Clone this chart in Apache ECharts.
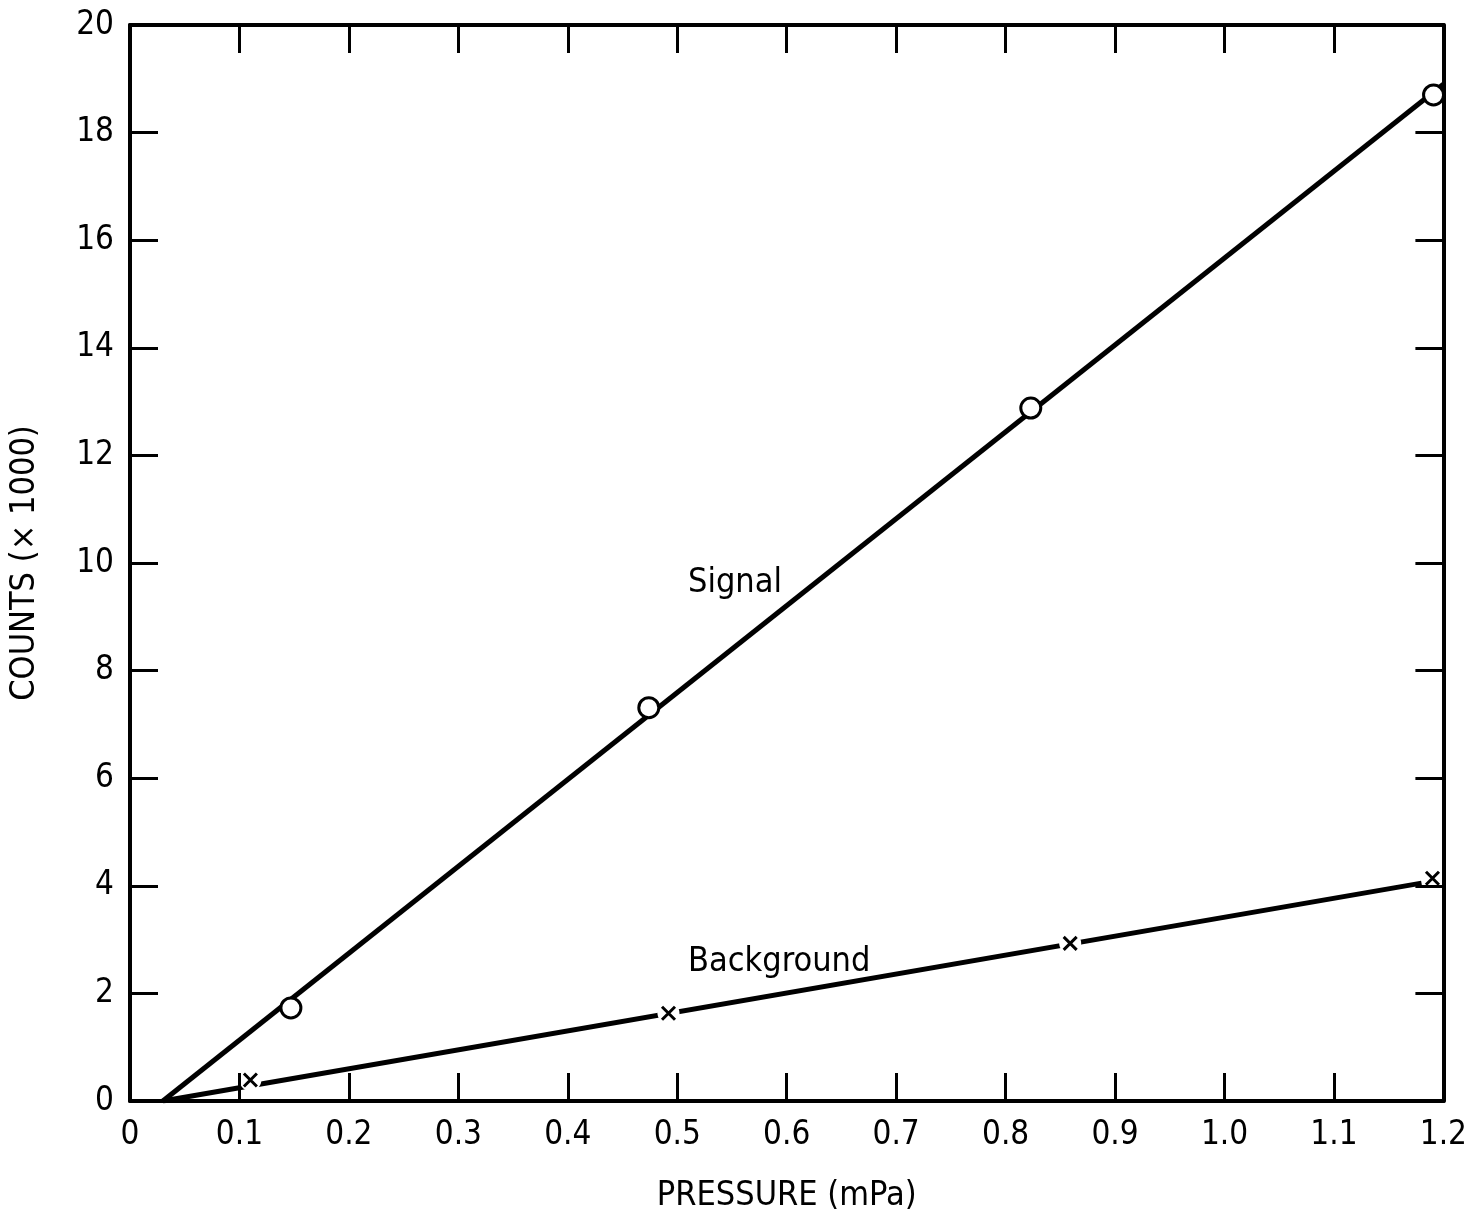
<!DOCTYPE html>
<html><head><meta charset="utf-8">
<script src="https://cdn.jsdelivr.net/npm/echarts@6/dist/echarts.min.js"></script>
<style>html,body{margin:0;padding:0;background:#fff}#c{width:1470px;height:1218px}</style>
</head><body><div id="c"></div>
<script>
const signalX = [0.147, 0.474, 0.823, 1.191];
const signalY = [1.73, 7.31, 12.88, 18.70];
const backgroundX = [0.110, 0.492, 0.859, 1.190];
const backgroundY = [0.39, 1.63, 2.93, 4.14];
const signalFitX = [0.03, 1.2];
const signalFitY = [0, 18.9];
const backgroundFitX = [0.03, 1.18];
const backgroundFitY = [0, 4.05];
const xTitle = 'PRESSURE (mPa)';
const yTitle = 'COUNTS (× 1000)';
const signalLabel = 'Signal';
const backgroundLabel = 'Background';

const FONT = "'DejaVu Sans Condensed', 'Liberation Sans Narrow', 'DejaVu Sans', sans-serif";
const zip = (a, b) => a.map((v, i) => [v, b[i]]);
const chart = echarts.init(document.getElementById('c'));
const axisLine = {show: true, onZero: false, lineStyle: {color: '#000', width: 4}};
const tick = {show: true, inside: true, length: 28, lineStyle: {color: '#000', width: 3}};
chart.setOption({
  animation: false,
  backgroundColor: '#fff',
  grid: {left: 125, right: 26, top: 25, bottom: 113},
  xAxis: [{
    type: 'value', min: 0, max: 1.2, interval: 0.1, position: 'bottom', z: 10,
    axisLine, axisTick: tick, splitLine: {show: false},
    axisLabel: {color: '#000', fontSize: 33, fontFamily: FONT, margin: 18,
      formatter: v => v === 0 ? '0' : v.toFixed(1)},
    name: xTitle, nameLocation: 'middle', nameGap: 78,
    nameTextStyle: {color: '#000', fontSize: 34, fontFamily: FONT}
  }, {
    type: 'value', min: 0, max: 1.2, interval: 0.1, position: 'top', z: 10,
    axisLine, axisTick: tick, axisLabel: {show: false}, splitLine: {show: false}
  }],
  yAxis: [{
    type: 'value', min: 0, max: 20, interval: 2, position: 'left', z: 10,
    axisLine, axisTick: tick, splitLine: {show: false},
    axisLabel: {color: '#000', fontSize: 33, fontFamily: FONT, margin: 16},
    name: yTitle, nameLocation: 'middle', nameGap: 88, nameRotate: 90,
    nameTextStyle: {color: '#000', fontSize: 34, fontFamily: FONT}
  }, {
    type: 'value', min: 0, max: 20, interval: 2, position: 'right', z: 10,
    axisLine, axisTick: tick, axisLabel: {show: false}, splitLine: {show: false}
  }],
  series: [
    {type: 'line', data: zip(signalFitX, signalFitY), symbol: 'none',
     lineStyle: {color: '#000', width: 5}, z: 2},
    {type: 'line', data: zip(backgroundFitX, backgroundFitY), symbol: 'none',
     lineStyle: {color: '#000', width: 5}, z: 2},
    {type: 'scatter', data: zip(backgroundX, backgroundY), symbol: 'circle', symbolSize: 22,
     itemStyle: {color: '#fff', opacity: 1}, z: 3, silent: true},
    {type: 'scatter', data: zip(signalX, signalY), symbol: 'circle', symbolSize: 20,
     itemStyle: {color: '#fff', borderColor: '#000', borderWidth: 3, opacity: 1}, z: 4},
    {type: 'scatter', data: zip(backgroundX, backgroundY), symbol: 'path://M0,0L10,10M10,0L0,10',
     symbolSize: 13, itemStyle: {color: 'none', borderColor: '#000', borderWidth: 3, opacity: 1}, z: 4}
  ],
  graphic: [
    {type: 'text', left: 688, top: 566, style: {text: signalLabel, fontSize: 34, fontFamily: FONT, fill: '#000'}},
    {type: 'text', left: 688, top: 945, style: {text: backgroundLabel, fontSize: 34, fontFamily: FONT, fill: '#000'}}
  ]
});
</script></body></html>
